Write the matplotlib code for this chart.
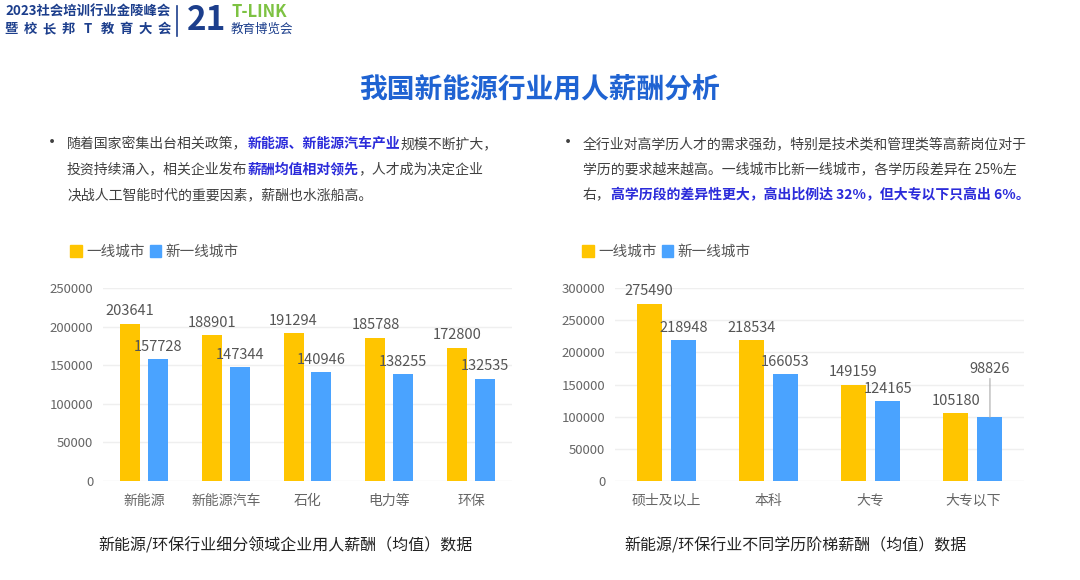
import matplotlib
matplotlib.use("Agg")
import matplotlib.pyplot as plt
from matplotlib.patches import Patch
import numpy as np

plt.rcParams['font.family'] = ['Noto Sans CJK SC', 'DejaVu Sans']

# data
industries = ['新能源', '新能源汽车', '石化', '电力等', '环保']
ind_tier1 = [203641, 188901, 191294, 185788, 172800]
ind_new_tier1 = [157728, 147344, 140946, 138255, 132535]

degrees = ['硕士及以上', '本科', '大专', '大专以下']
deg_tier1 = [275490, 218534, 149159, 105180]
deg_new_tier1 = [218948, 166053, 124165, 98826]

series_names = ['一线城市', '新一线城市']
YELLOW = '#FFC500'
BLUE = '#4AA3FF'
GRAY_TXT = '#404040'
HL_BLUE = '#2B2BDA'
NAVY = '#1C3E8C'

left_lines = [
    [('随着国家密集出台相关政策，', False), ('新能源、新能源汽车产业', True), ('规模不断扩大，', False)],
    [('投资持续涌入，相关企业发布', False), ('薪酬均值相对领先', True), ('，人才成为决定企业', False)],
    [('决战人工智能时代的重要因素，薪酬也水涨船高。', False)],
]
right_lines = [
    [('全行业对高学历人才的需求强劲，特别是技术类和管理类等高薪岗位对于', False)],
    [('学历的要求越来越高。一线城市比新一线城市，各学历段差异在 25%左', False)],
    [('右，', False), ('高学历段的差异性更大，高出比例达 32%，但大专以下只高出 6%。', True)],
]

W, H = 1080, 580
fig = plt.figure(figsize=(W / 100, H / 100), dpi=100)
renderer = fig.canvas.get_renderer()


def px(x, y):
    return x / W, 1 - y / H


def rich_line(x, y, parts, size=10):
    # draw segments one after another, measuring each
    for s, bold in parts:
        t = fig.text(*px(x, y), s, fontsize=size, va='center', ha='left',
                     color=HL_BLUE if bold else GRAY_TXT,
                     fontweight='bold' if bold else 'normal')
        x += t.get_window_extent(renderer).width


def paragraph(x, lines):
    fig.text(*px(x - 15, 143), '•', fontsize=13, va='center', ha='center', color=GRAY_TXT)
    for i, parts in enumerate(lines):
        rich_line(x, 144 + i * 25.5, parts)


def bar_chart(left, cats, y1, y2, ymax, legend_x, offs, leader=None):
    ax = fig.add_axes([left / W, 1 - 481 / H, 409 / W, 193 / H])
    x = np.arange(len(cats))
    b1 = ax.bar(x - offs, y1, 0.245, color=YELLOW, zorder=3)
    b2 = ax.bar(x + offs, y2, 0.245, color=BLUE, zorder=3)
    ax.set_xlim(-0.5, len(cats) - 0.5)
    ax.set_ylim(0, ymax)
    ax.set_yticks(np.arange(0, ymax + 1, 50000))
    ax.grid(axis='y', color='#EFEFEF', lw=1, zorder=0)
    for s in ax.spines.values():
        s.set_visible(False)
    ax.tick_params(length=0, labelsize=9.5, colors='#666666')
    ax.tick_params(axis='y', pad=7)
    ax.tick_params(axis='x', pad=9, labelsize=10)
    ax.set_xticks(x, cats)
    for si, bars in enumerate((b1, b2)):
        for i, b in enumerate(bars):
            cx = b.get_x() + b.get_width() / 2
            if leader == (si, i):
                # label lifted above with a thin leader line
                ax.annotate(f'{int(b.get_height())}', (cx, b.get_height()),
                            xytext=(0, 30), textcoords='offset points', ha='center', va='bottom',
                            fontsize=10.5, color='#555555', zorder=5,
                            arrowprops=dict(arrowstyle='-', color='#AAAAAA', lw=0.8,
                                            shrinkA=0, shrinkB=0))
            else:
                ax.annotate(f'{int(b.get_height())}', (cx, b.get_height()),
                            xytext=(0, 4), textcoords='offset points', ha='center', va='bottom',
                            fontsize=10.5, color='#555555', zorder=5)
    handles = [Patch(color=YELLOW), Patch(color=BLUE)]
    fig.legend(handles, series_names, loc='center left', bbox_to_anchor=px(legend_x, 252),
               ncol=2, frameon=False, fontsize=10.5, handlelength=0.8, handleheight=0.8,
               handletextpad=0.3, columnspacing=0.35, labelcolor='#555555', borderaxespad=0,
               borderpad=0)
    return ax


# header logo
fig.text(*px(5, 12), '2023社会培训行业金陵峰会', fontsize=9.6, fontweight='bold',
         color=NAVY, va='center', ha='left')
for i, ch in enumerate('暨校长邦T教育大会'):
    fig.text(*px(11 + i * 19.2, 29), ch, fontsize=9.6, fontweight='bold',
             color=NAVY, va='center', ha='center')
fig.add_artist(plt.Line2D([177 / W, 177 / W], [1 - 6 / H, 1 - 36 / H], color=NAVY, lw=1.2))
fig.text(*px(187, 20), '21', fontsize=24, fontweight='bold', color=NAVY, va='center', ha='left')
fig.text(*px(231, 12), 'T-LINK', fontsize=12, fontweight='bold', color='#7DC242', va='center', ha='left')
fig.text(*px(231, 29), '教育博览会', fontsize=9, color=NAVY, va='center', ha='left')

# title
fig.text(*px(540, 90), '我国新能源行业用人薪酬分析', fontsize=20, fontweight='bold',
         color='#1F63D2', va='center', ha='center')

paragraph(67, left_lines)
paragraph(583, right_lines)

bar_chart(103, industries, ind_tier1, ind_new_tier1, 250000, 70, 0.17)
bar_chart(615, degrees, deg_tier1, deg_new_tier1, 300000, 582, 0.167, leader=(1, 3))

# captions
fig.text(*px(285, 546), '新能源/环保行业细分领域企业用人薪酬（均值）数据', fontsize=11.5,
         color='#222222', va='center', ha='center')
fig.text(*px(795, 546), '新能源/环保行业不同学历阶梯薪酬（均值）数据', fontsize=11.5,
         color='#222222', va='center', ha='center')

fig.savefig('out.png', dpi=100, facecolor='white')
